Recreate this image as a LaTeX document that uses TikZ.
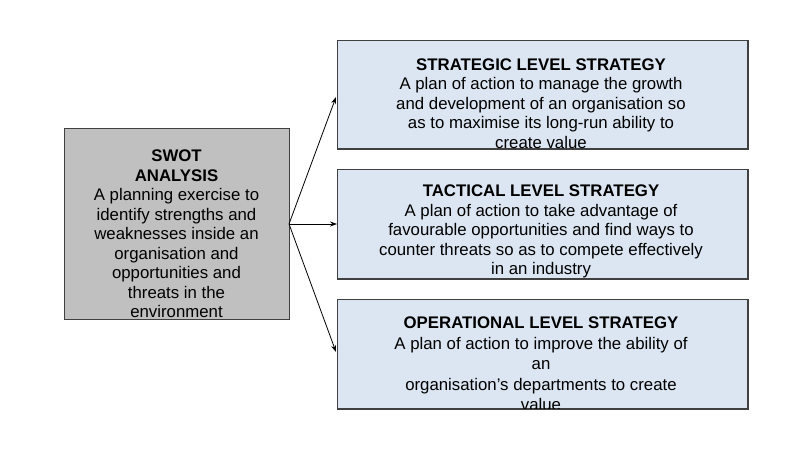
\documentclass[tikz,border=0pt]{standalone}
\usepackage{fontspec}
\setmainfont{Liberation Sans}
\usetikzlibrary{arrows.meta}
\definecolor{boxgrey}{HTML}{C0C0C0}
\definecolor{boxblue}{HTML}{DCE6F2}
\definecolor{edge}{HTML}{404040}
\tikzset{
  x=1pt, y=-1pt,
  greybox/.style={draw=edge, line width=1pt, fill=boxgrey, inner sep=0pt, anchor=north west},
  bluebox/.style={draw=edge, line width=1pt, fill=boxblue, inner sep=0pt, anchor=north west},
  txt/.style={align=center, inner sep=0pt, font=\fontsize{16.8}{19.5}\selectfont},
  conn/.style={-{Stealth[length=7pt,width=5pt]}, line width=0.8pt, black},
}
\begin{document}
\begin{tikzpicture}
\useasboundingbox (0,0) rectangle (800,448);
% boxes
\node[greybox, minimum width=225pt, minimum height=191pt] (swot) at (64,128) {};
\node[bluebox, minimum width=410pt, minimum height=108pt] (strat) at (337,40) {};
\node[bluebox, minimum width=410pt, minimum height=109pt] (tact) at (337,169) {};
\node[bluebox, minimum width=410pt, minimum height=109pt] (oper) at (337,299) {};
% texts
\node[txt] (swott) at (176.5,234) {\textbf{SWOT}\\\textbf{ANALYSIS}\\A planning exercise to\\identify strengths and\\weaknesses inside an\\organisation and\\opportunities and\\threats in the\\environment};
\begin{scope}
\clip (strat.north west) rectangle (strat.south east);
\node[txt] (stratt) at (541,103.5) {\textbf{STRATEGIC LEVEL STRATEGY}\\A plan of action to manage the growth\\and development of an organisation so\\as to maximise its long-run ability to\\create value};
\end{scope}
\begin{scope}
\clip (tact.north west) rectangle (tact.south east);
\node[txt] (tactt) at (541,231.5) {\textbf{TACTICAL LEVEL STRATEGY}\\A plan of action to take advantage of\\favourable opportunities and find ways to\\counter threats so as to compete effectively\\in an industry};
\end{scope}
\begin{scope}
\clip (oper.north west) rectangle (oper.south east);
\node[txt, font=\fontsize{16.8}{20.5}\selectfont] (opert) at (541,364) {\textbf{OPERATIONAL LEVEL STRATEGY}\\A plan of action to improve the ability of\\an\\organisation’s departments to create\\value};
\end{scope}
% redraw borders over clipped text
\draw[edge, line width=1pt] (strat.north west) rectangle (strat.south east);
\draw[edge, line width=1pt] (tact.north west) rectangle (tact.south east);
\draw[edge, line width=1pt] (oper.north west) rectangle (oper.south east);
% connectors
\coordinate (src) at (289,224);
\draw[conn] (src) -- (336,97);
\draw[conn] (src) -- (tact.west);
\draw[conn] (src) -- (336,352);
\end{tikzpicture}
\end{document}
